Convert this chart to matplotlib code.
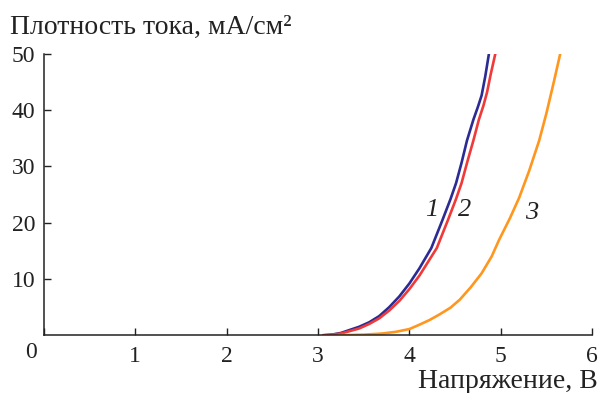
import matplotlib
matplotlib.use("Agg")
import matplotlib.pyplot as plt

plt.rcParams['font.family'] = ['Liberation Serif', 'DejaVu Serif']

# curve 1
v1 = [3.06, 3.15, 3.25, 3.34, 3.45, 3.56, 3.67, 3.78, 3.89, 4.0, 4.11, 4.24, 4.36, 4.45, 4.51,
      4.57, 4.63, 4.70, 4.75, 4.79, 4.83, 4.87]
j1 = [0.0, 0.1, 0.4, 0.9, 1.5, 2.3, 3.4, 5.0, 6.9, 9.2, 11.9, 15.5, 20.4, 24.2, 27.0,
      30.6, 34.6, 38.3, 40.6, 42.6, 46.0, 50.0]
# curve 2
v2 = [3.06, 3.15, 3.25, 3.34, 3.45, 3.56, 3.67, 3.78, 3.89, 4.0, 4.11, 4.30, 4.42, 4.51, 4.57,
      4.63, 4.70, 4.76, 4.81, 4.85, 4.89, 4.94]
j2 = [0.0, 0.1, 0.3, 0.7, 1.2, 2.0, 3.0, 4.4, 6.1, 8.2, 10.6, 15.5, 20.4, 24.2, 27.0,
      30.6, 34.6, 38.3, 40.8, 43.2, 46.4, 50.0]
# curve 3
v3 = [3.23, 3.5, 3.7, 3.85, 4.0, 4.1, 4.22, 4.33, 4.45, 4.55, 4.67, 4.79, 4.9, 4.98,
      5.1, 5.2, 5.31, 5.42, 5.5, 5.58, 5.65]
j3 = [0.0, 0.1, 0.3, 0.6, 1.1, 1.8, 2.7, 3.7, 4.9, 6.3, 8.5, 11.0, 14.0, 16.9,
      20.8, 24.4, 29.2, 34.6, 39.5, 45.0, 50.0]

curve_labels = ["1", "2", "3"]
label_v = [4.24, 4.60, 5.34]
label_j = [22.2, 22.2, 21.8]

fig = plt.figure(figsize=(6, 3.93), dpi=100)
ax = fig.add_axes([0.073, 0.147, 0.914, 0.716])

ax.plot(v1, j1, color="#2b2b93", lw=1.9)
ax.plot(v2, j2, color="#f03a3a", lw=1.9)
ax.plot(v3, j3, color="#ff961e", lw=1.9)

for t, x, y in zip(curve_labels, label_v, label_j):
    ax.text(x, y, t, fontsize=19, style="italic", ha="center", va="center", color="#222222")

ax.set_xlim(0, 6)
ax.set_ylim(0, 50)
ax.set_xticks([0, 1, 2, 3, 4, 5, 6])
ax.set_xticklabels(["", "1", "2", "3", "4", "5", "6"])
ax.set_yticks([10, 20, 30, 40, 50])
ax.tick_params(direction="in", length=5, width=1, labelsize=17, colors="#222222")
ax.tick_params(axis="x", pad=8)
ax.tick_params(axis="y", pad=6)
for s in ["top", "right"]:
    ax.spines[s].set_visible(False)
for s in ["left", "bottom"]:
    ax.spines[s].set_linewidth(1.1)
    ax.spines[s].set_color("#222222")

fig.text(0.052, 0.102, "0", fontsize=17, ha="center", va="center", color="#222222")
fig.text(0.017, 0.93, "Плотность тока, мА/см²", fontsize=20, ha="left", va="center", color="#222222")
fig.text(0.997, 0.028, "Напряжение, В", fontsize=20, ha="right", va="center", color="#222222")

fig.savefig("out.png", dpi=100)
